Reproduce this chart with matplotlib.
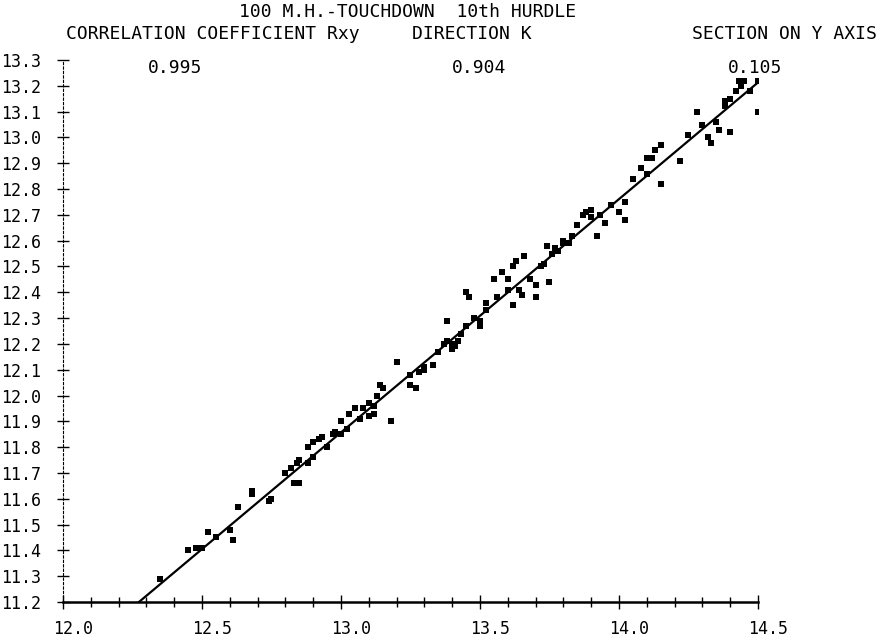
import matplotlib
matplotlib.use("Agg")
import matplotlib.pyplot as plt
import matplotlib.transforms as mtransforms
import numpy as np

# touchdown times: 10th hurdle (x) vs 100 m hurdles final (y)
x_vals = [12.35, 12.45, 12.48, 12.50, 12.52, 12.55, 12.60, 12.61, 12.63, 12.68,
          12.68, 12.74, 12.75, 12.80, 12.82, 12.83, 12.85, 12.84, 12.85, 12.88,
          12.88, 12.90, 12.92, 12.90, 12.93, 12.95, 12.97, 12.98, 13.00, 13.00,
          13.02, 13.03, 13.05, 13.07, 13.08, 13.10, 13.10, 13.12, 13.12, 13.13,
          13.14, 13.15, 13.18, 13.20, 13.25, 13.25, 13.27, 13.28, 13.30, 13.30,
          13.33, 13.35, 13.37, 13.38, 13.38, 13.40, 13.40, 13.41, 13.42, 13.43,
          13.45, 13.45, 13.46, 13.48, 13.50, 13.50, 13.52, 13.52, 13.55, 13.56,
          13.58, 13.60, 13.60, 13.62, 13.62, 13.63, 13.64, 13.65, 13.66, 13.68,
          13.70, 13.70, 13.72, 13.73, 13.74, 13.75, 13.76, 13.77, 13.78, 13.80,
          13.80, 13.82, 13.83, 13.85, 13.87, 13.88, 13.90, 13.90, 13.92, 13.93,
          13.95, 13.97, 14.00, 14.02, 14.02, 14.05, 14.08, 14.10, 14.10, 14.12,
          14.13, 14.15, 14.15, 14.22, 14.25, 14.28, 14.30, 14.32, 14.33, 14.35,
          14.36, 14.38, 14.38, 14.40, 14.40, 14.42, 14.43, 14.44, 14.45, 14.47,
          14.50, 14.50]
y_vals = [11.29, 11.40, 11.41, 11.41, 11.47, 11.45, 11.48, 11.44, 11.57, 11.62,
          11.63, 11.59, 11.60, 11.70, 11.72, 11.66, 11.66, 11.74, 11.75, 11.80,
          11.74, 11.82, 11.83, 11.76, 11.84, 11.80, 11.85, 11.86, 11.85, 11.90,
          11.87, 11.93, 11.95, 11.91, 11.95, 11.92, 11.97, 11.96, 11.93, 12.00,
          12.04, 12.03, 11.90, 12.13, 12.08, 12.04, 12.03, 12.09, 12.10, 12.11,
          12.12, 12.17, 12.20, 12.29, 12.21, 12.18, 12.20, 12.19, 12.21, 12.24,
          12.27, 12.40, 12.38, 12.30, 12.29, 12.27, 12.33, 12.36, 12.45, 12.38,
          12.48, 12.41, 12.45, 12.50, 12.35, 12.52, 12.41, 12.39, 12.54, 12.45,
          12.43, 12.38, 12.50, 12.51, 12.58, 12.44, 12.55, 12.57, 12.56, 12.59,
          12.60, 12.59, 12.62, 12.66, 12.70, 12.71, 12.69, 12.72, 12.62, 12.70,
          12.67, 12.74, 12.71, 12.68, 12.75, 12.84, 12.88, 12.92, 12.86, 12.92,
          12.95, 12.97, 12.82, 12.91, 13.01, 13.10, 13.05, 13.00, 12.98, 13.06,
          13.03, 13.14, 13.12, 13.02, 13.15, 13.18, 13.22, 13.20, 13.22, 13.18,
          13.22, 13.10]

r_xy = 0.995
k_dir = 0.904
y_section = 0.105

x_ticks = [12.0, 12.5, 13.0, 13.5, 14.0, 14.5]
y_ticks = np.round(np.arange(11.2, 13.31, 0.1), 1)

W, H = 884, 641
fig = plt.figure(figsize=(W / 100, H / 100), dpi=100)
ax = fig.add_axes([63 / W, 1 - 602 / H, (758 - 63) / W, (602 - 60) / H])

ax.scatter(x_vals, y_vals, s=16, marker='s', color='black', linewidths=0, zorder=3)

# regression line, starts where it meets the x axis
x0 = (11.2 - y_section) / k_dir
xl = np.array([x0, 14.5])
ax.plot(xl, k_dir * xl + y_section, color='black', lw=1.6, zorder=2)

ax.set_xlim(12.0, 14.5)
ax.set_ylim(11.2, 13.3)
for s in ['top', 'right']:
    ax.spines[s].set_visible(False)
ax.spines['bottom'].set_linewidth(1.8)
ax.spines['left'].set_linewidth(0.8)
ax.spines['left'].set_linestyle((0, (2, 2)))

font = 'DejaVu Sans Mono'
ax.set_xticks(x_ticks)
ax.set_xticklabels([f'{v:.1f}' for v in x_ticks], fontsize=12, family=font)
ax.set_xticks(np.round(np.arange(12.0, 14.51, 0.1), 1), minor=True)
ax.set_yticks(y_ticks)
ax.set_yticklabels([f'{v:.1f}' for v in y_ticks], fontsize=12, family=font)
ax.tick_params(axis='x', which='major', direction='inout', length=10, width=1.0, pad=8)
ax.tick_params(axis='x', which='minor', direction='inout', length=7, width=1.0)
ax.tick_params(axis='y', direction='inout', length=8, width=1.0, pad=12)

offset = mtransforms.ScaledTranslation(10 / 100, 0, fig.dpi_scale_trans)
for lab in ax.get_xticklabels():
    lab.set_transform(lab.get_transform() + offset)

def ftext(px, py, s, ha='left'):
    fig.text(px / W, 1 - py / H, s, ha=ha, va='center', fontsize=13, family=font)

ftext(408, 12, '100 M.H.-TOUCHDOWN  10th HURDLE', ha='center')
ftext(66, 34, 'CORRELATION COEFFICIENT Rxy')
ftext(412, 34, 'DIRECTION K')
ftext(877, 34, 'SECTION ON Y AXIS', ha='right')
ftext(148, 68, f'{r_xy:.3f}')
ftext(452, 68, f'{k_dir:.3f}')
ftext(728, 68, f'{y_section:.3f}')

fig.savefig('out.png', dpi=100)
